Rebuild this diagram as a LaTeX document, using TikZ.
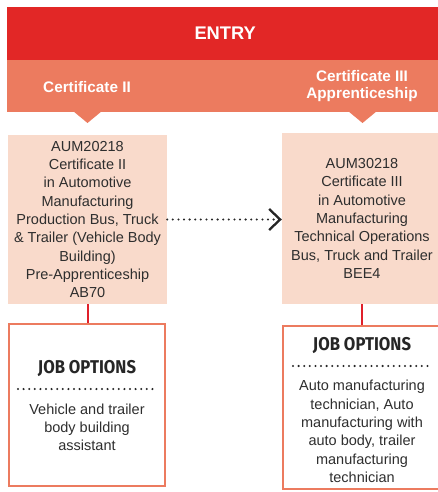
\documentclass[tikz,border=0pt]{standalone}
\usepackage{fontspec}
\setmainfont{Liberation Sans}
\newfontfamily\jobfont[FakeStretch=0.9]{Fira Sans}
\usetikzlibrary{arrows.meta,positioning}
\definecolor{entryred}{HTML}{E22726}
\definecolor{bandsalmon}{HTML}{EC7B5F}
\definecolor{boxpeach}{HTML}{F9DACB}
\definecolor{textgrey}{HTML}{2E2E2E}
\definecolor{linkred}{HTML}{E0202A}
\begin{document}
\begin{tikzpicture}[x=1pt,y=-1pt,line cap=butt,line join=miter,>={Straight Barb[length=11pt,width=21pt,line width=2.3pt]},
		course/.style={fill=boxpeach,text=textgrey,align=center,inner sep=0pt,font=\fontsize{14.5}{18.3}\selectfont},
		jobbox/.style={draw=bandsalmon,line width=2pt,inner sep=0pt},
		jobtitle/.style={text=black!85,font=\jobfont\bfseries\fontsize{18.5}{19}\selectfont},
		jobtext/.style={text=textgrey,align=center,font=\fontsize{14.5}{18.3}\selectfont},
		headtext/.style={text=white,align=center,font=\bfseries\fontsize{15.3}{17}\selectfont},
		sep/.style={dash pattern=on 0pt off 5.6pt,line cap=round,line width=2.3pt,black!85},
		link/.style={linkred,line width=2pt}]
	\clip (0,0) rectangle (438,492);
	\node[fill=entryred,minimum width=436pt,minimum height=53pt,anchor=north west,inner sep=0pt,
		text=white,font=\bfseries\fontsize{18.3}{20}\selectfont] (entry) at (7,7) {ENTRY};
	\node[fill=bandsalmon,minimum width=436pt,minimum height=52pt,anchor=north west,inner sep=0pt] (band) at (7,60) {};
	\fill[bandsalmon] (73,111)--(102,111)--(87.5,123)--cycle
		(348,111)--(377,111)--(362.5,123)--cycle;
	\node[headtext] (head2) at (87,87) {Certificate II};
	\node[headtext] (head3) at (362,86.5) {Certificate III\\Apprenticeship};
	\node[course,minimum width=159pt,minimum height=169pt] (cert2) at (87.5,219.5)
		{AUM20218\\Certificate II\\in Automotive\\Manufacturing\\Production Bus, Truck\\\& Trailer (Vehicle Body\\Building)\\Pre-Apprenticeship\\AB70};
	\node[course,minimum width=160pt,minimum height=171pt] (cert3) at (362,218.5)
		{AUM30218\\Certificate III\\in Automotive\\Manufacturing\\Technical Operations\\Bus, Truck and Trailer\\BEE4};
	\draw[sep,->] (cert2.east) -- (cert2.east -| cert3.west);
	\node[jobbox,minimum width=156pt,minimum height=162pt] (job2) at (87,405) {};
	\node[jobbox,minimum width=158pt,minimum height=163pt] (job3) at (362,407.5) {};
	\draw[link] (cert2.south) -- (cert2.south |- job2.north);
	\draw[link] (cert3.south) -- (cert3.south |- job3.north);
	\node[jobtitle] (job2t) at (87,368) {JOB OPTIONS};
	\draw[sep] (18,389) -- (157,389);
	\node[jobtext] (job2d) at (87,427.5) {Vehicle and trailer\\body building\\assistant};
	\node[jobtitle] (job3t) at (362,345) {JOB OPTIONS};
	\draw[sep] (293,366) -- (431,366);
	\node[jobtext] (job3d) at (362,431.5) {Auto manufacturing\\technician, Auto\\manufacturing with\\auto body, trailer\\manufacturing\\technician};
\end{tikzpicture}
\end{document}
